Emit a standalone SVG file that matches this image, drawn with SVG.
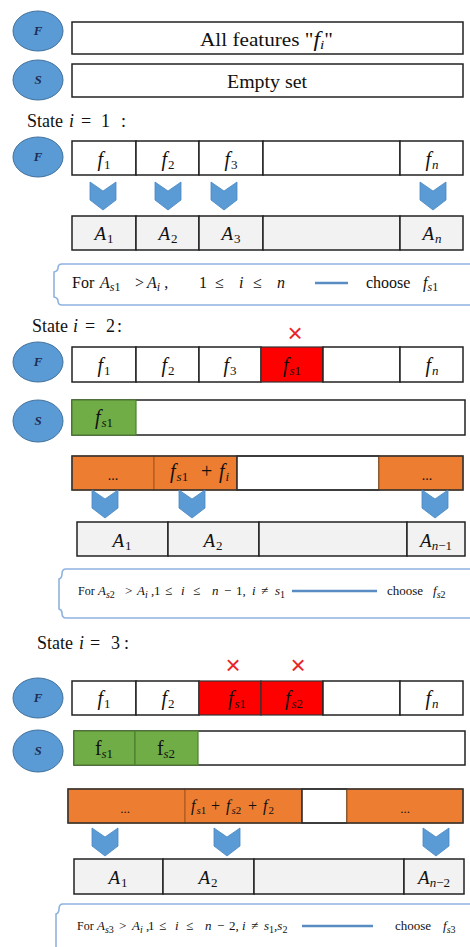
<svg xmlns="http://www.w3.org/2000/svg" width="470" height="947" viewBox="0 0 470 947" font-family="'Liberation Serif', 'Times New Roman', serif">
<style>
.bg{fill:#fff}
.box{fill:#fff;stroke:#222;stroke-width:1.5}
.gray{fill:#f2f2f2;stroke:#222;stroke-width:1.5}
.red{fill:#ff0000;stroke:#333;stroke-width:1.2}
.green{fill:#70ad47;stroke:#4f7f31;stroke-width:1.2}
.orange{fill:#ed7d31;stroke:#ae5a21;stroke-width:1.2}
.frame{fill:none;stroke:#333;stroke-width:1.5}
.ell{fill:#5b9bd5;stroke:#41719c;stroke-width:1}
.chev{fill:#5b9bd5;stroke:#4a86c0;stroke-width:0.8}
.brace{fill:#fff;stroke:#8fb3df;stroke-width:1.6}
.link{stroke:#5a8cc4;stroke-width:2.5}
text{font-family:'Liberation Serif','Times New Roman',serif;fill:#111}
.el{font-size:13px;font-style:italic;font-weight:bold;fill:#1f2d50;text-anchor:middle}
.i{font-style:italic}
.c{font-size:20px;text-anchor:middle}
.a{font-size:19px;text-anchor:middle}
.s{font-size:13px}
.st{font-size:18px}
.b1{font-size:16px}
.b2{font-size:13px}
.x{font-family:'Liberation Sans',Arial,sans-serif;font-size:26px;fill:#e8262a;text-anchor:middle}
</style>
<defs>
<polygon id="chev" points="-13,0 0,9 13,0 13,18 0,28 -13,18"/>
</defs>
<rect class="bg" width="470" height="947"/>

<!-- Header -->
<g id="F0"><ellipse class="ell" cx="38" cy="31" rx="25" ry="20"/><text class="el" x="38" y="35">F</text></g>
<g id="allFeatures"><rect class="box" x="72" y="22" width="391" height="32"/>
<text x="200" y="46" font-size="18" textLength="133" lengthAdjust="spacingAndGlyphs">All features "<tspan class="i" font-size="20">f</tspan><tspan class="i" font-size="13" dy="3">i</tspan><tspan dy="-3">"</tspan></text></g>
<g id="S0"><ellipse class="ell" cx="38" cy="80" rx="25" ry="20"/><text class="el" x="38" y="84">S</text></g>
<g id="emptySet"><rect class="box" x="72" y="64" width="391" height="33"/>
<text x="227" y="88" font-size="18" textLength="80" lengthAdjust="spacingAndGlyphs">Empty set</text></g>

<!-- State 1 -->
<g id="state1Label"><text class="st" y="127"><tspan x="27">State</tspan><tspan x="69" class="i">i</tspan><tspan x="81">=</tspan><tspan x="101">1</tspan><tspan x="121">:</tspan></text></g>
<g id="F1"><ellipse class="ell" cx="38" cy="157" rx="25" ry="20"/><text class="el" x="38" y="161">F</text></g>
<g id="F1row">
<rect class="box" x="72" y="141" width="64" height="34"/>
<rect class="box" x="136" y="141" width="63" height="34"/>
<rect class="box" x="199" y="141" width="64" height="34"/>
<rect class="box" x="263" y="141" width="137" height="34"/>
<rect class="box" x="400" y="141" width="63" height="34"/>
<text class="c" x="104" y="166"><tspan class="i">f</tspan><tspan class="s" dx="1" dy="3">1</tspan></text>
<text class="c" x="168" y="166"><tspan class="i">f</tspan><tspan class="s" dx="1" dy="3">2</tspan></text>
<text class="c" x="231" y="166"><tspan class="i">f</tspan><tspan class="s" dx="1" dy="3">3</tspan></text>
<text class="c" x="432" y="166"><tspan class="i">f</tspan><tspan class="i s" dx="1" dy="3">n</tspan></text>
</g>
<g id="A1row">
<rect class="gray" x="72" y="216" width="64" height="34"/>
<rect class="gray" x="136" y="216" width="63" height="34"/>
<rect class="gray" x="199" y="216" width="64" height="34"/>
<rect class="gray" x="263" y="216" width="137" height="34"/>
<rect class="gray" x="400" y="216" width="63" height="34"/>
<text class="a" x="104" y="240"><tspan class="i">A</tspan><tspan class="s" dx="1" dy="3">1</tspan></text>
<text class="a" x="168" y="240"><tspan class="i">A</tspan><tspan class="s" dx="1" dy="3">2</tspan></text>
<text class="a" x="231" y="240"><tspan class="i">A</tspan><tspan class="s" dx="1" dy="3">3</tspan></text>
<text class="a" x="432" y="240"><tspan class="i">A</tspan><tspan class="i s" dx="1" dy="3">n</tspan></text>
</g>
<g id="rule1">
<path class="brace" d="M472,264 H62 Q58,264 58,268 Q58,271 54,272 V297 Q58,298 58,301 Q58,305 62,305 H472"/>
<text class="b1" y="288"><tspan x="72">For</tspan><tspan x="100" class="i">A</tspan><tspan class="i" font-size="12" dy="3">s</tspan><tspan font-size="12">1</tspan><tspan x="135" dy="-3">&gt;</tspan><tspan x="147" class="i">A</tspan><tspan class="i" font-size="12" dy="3">i</tspan><tspan dy="-3"> ,</tspan><tspan x="199">1</tspan><tspan x="215">≤</tspan><tspan x="239" class="i">i</tspan><tspan x="253">≤</tspan><tspan x="277" class="i">n</tspan><tspan x="366">choose</tspan><tspan x="423" class="i">f</tspan><tspan class="i" font-size="12" dy="3">s</tspan><tspan font-size="12">1</tspan></text>
</g>

<!-- State 2 -->
<g id="state2Label"><text class="st" y="332"><tspan x="32">State</tspan><tspan x="73" class="i">i</tspan><tspan x="85">=</tspan><tspan x="106">2</tspan><tspan x="117">:</tspan></text></g>
<g id="cross2"><text class="x" x="295" y="342">×</text></g>
<g id="F2"><ellipse class="ell" cx="38" cy="362" rx="25" ry="20"/><text class="el" x="38" y="366">F</text></g>
<g id="F2row">
<rect class="box" x="72" y="347" width="64" height="35"/>
<rect class="box" x="136" y="347" width="63" height="35"/>
<rect class="box" x="199" y="347" width="62" height="35"/>
<rect class="red" x="261" y="347" width="62" height="35"/>
<rect class="box" x="323" y="347" width="77" height="35"/>
<rect class="box" x="400" y="347" width="63" height="35"/>
<text class="c" x="104" y="372"><tspan class="i">f</tspan><tspan class="s" dx="1" dy="3">1</tspan></text>
<text class="c" x="168" y="372"><tspan class="i">f</tspan><tspan class="s" dx="1" dy="3">2</tspan></text>
<text class="c" x="230" y="372"><tspan class="i">f</tspan><tspan class="s" dx="1" dy="3">3</tspan></text>
<text class="c" x="292" y="372"><tspan class="i">f</tspan><tspan class="i s" dx="1" dy="3">s</tspan><tspan class="s">1</tspan></text>
<text class="c" x="432" y="372"><tspan class="i">f</tspan><tspan class="i s" dx="1" dy="3">n</tspan></text>
</g>
<g id="S2"><ellipse class="ell" cx="38" cy="421" rx="25" ry="21"/><text class="el" x="38" y="425">S</text></g>
<g id="S2row">
<rect class="box" x="72" y="400" width="393" height="35"/>
<rect class="green" x="72" y="400" width="64" height="35"/>
<text class="c" x="104" y="424"><tspan class="i">f</tspan><tspan class="i s" dx="1" dy="3">s</tspan><tspan class="s">1</tspan></text>
</g>
<g id="O2row">
<rect class="orange" x="72" y="456" width="82" height="34"/>
<rect class="orange" x="154" y="456" width="83" height="34"/>
<rect class="box" x="237" y="456" width="142" height="34"/>
<rect class="orange" x="379" y="456" width="84" height="34"/>
<rect class="frame" x="72" y="456" width="391" height="34"/>
<text x="113" y="480" font-size="14" text-anchor="middle">...</text>
<text y="478" font-size="20"><tspan x="170" class="i">f</tspan><tspan class="i s" dx="1" dy="3">s</tspan><tspan class="s">1</tspan><tspan x="201" dy="-3">+</tspan><tspan x="219" class="i">f</tspan><tspan class="i s" dx="1" dy="3">i</tspan></text>
<text x="427" y="480" font-size="14" text-anchor="middle">...</text>
</g>
<g id="A2row">
<rect class="gray" x="77" y="522" width="91" height="34"/>
<rect class="gray" x="168" y="522" width="91" height="34"/>
<rect class="gray" x="259" y="522" width="148" height="34"/>
<rect class="gray" x="407" y="522" width="58" height="34"/>
<text class="a" x="122" y="547"><tspan class="i">A</tspan><tspan class="s" dx="1" dy="3">1</tspan></text>
<text class="a" x="213" y="547"><tspan class="i">A</tspan><tspan class="s" dx="1" dy="3">2</tspan></text>
<text class="a" x="436" y="547"><tspan class="i">A</tspan><tspan class="i s" dy="3">n</tspan><tspan class="s">−1</tspan></text>
</g>
<g id="rule2">
<path class="brace" d="M472,569 H66 Q62,569 62,574 Q62,578 59,579 V609 Q62,610 62,613 Q62,618 66,618 H472"/>
<text class="b2" y="595"><tspan x="78" font-size="12">For</tspan><tspan x="98" class="i">A</tspan><tspan class="i" font-size="10" dy="3">s</tspan><tspan font-size="10">2</tspan><tspan x="125" dy="-3">&gt;</tspan><tspan x="137" class="i">A</tspan><tspan class="i" font-size="10" dy="3">i</tspan><tspan dy="-3"> ,</tspan><tspan x="154">1</tspan><tspan x="165">≤</tspan><tspan x="181" class="i">i</tspan><tspan x="193">≤</tspan><tspan x="212" class="i">n</tspan><tspan x="224">−</tspan><tspan x="236">1,</tspan><tspan x="252" class="i">i</tspan><tspan x="261">≠</tspan><tspan x="275" class="i">s</tspan><tspan font-size="10" dy="3">1</tspan><tspan x="387" dy="-3">choose</tspan><tspan x="433" class="i">f</tspan><tspan class="i" font-size="10" dy="3">s</tspan><tspan font-size="10">2</tspan></text>
</g>

<!-- State 3 -->
<g id="state3Label"><text class="st" y="649"><tspan x="37">State</tspan><tspan x="79" class="i">i</tspan><tspan x="90">=</tspan><tspan x="111">3</tspan><tspan x="124">:</tspan></text></g>
<g id="cross3a"><text class="x" x="233" y="674">×</text></g>
<g id="cross3b"><text class="x" x="298" y="674">×</text></g>
<g id="F3"><ellipse class="ell" cx="38" cy="698" rx="25" ry="20"/><text class="el" x="38" y="702">F</text></g>
<g id="F3row">
<rect class="box" x="72" y="681" width="64" height="34"/>
<rect class="box" x="136" y="681" width="63" height="34"/>
<rect class="red" x="199" y="681" width="62" height="34"/>
<rect class="red" x="261" y="681" width="62" height="34"/>
<rect class="box" x="323" y="681" width="77" height="34"/>
<rect class="box" x="400" y="681" width="63" height="34"/>
<text class="c" x="104" y="705"><tspan class="i">f</tspan><tspan class="s" dx="1" dy="3">1</tspan></text>
<text class="c" x="168" y="705"><tspan class="i">f</tspan><tspan class="s" dx="1" dy="3">2</tspan></text>
<text class="c" x="237" y="705" fill="#3a0000"><tspan class="i">f</tspan><tspan class="i s" dx="1" dy="3">s</tspan><tspan class="s">1</tspan></text>
<text class="c" x="294" y="705" fill="#3a0000"><tspan class="i">f</tspan><tspan class="i s" dx="1" dy="3">s</tspan><tspan class="s">2</tspan></text>
<text class="c" x="432" y="705"><tspan class="i">f</tspan><tspan class="i s" dx="1" dy="3">n</tspan></text>
</g>
<g id="S3"><ellipse class="ell" cx="38" cy="751" rx="25" ry="21"/><text class="el" x="38" y="755">S</text></g>
<g id="S3row">
<rect class="box" x="74" y="731" width="391" height="34"/>
<rect class="green" x="74" y="731" width="61" height="34"/>
<rect class="green" x="135" y="731" width="63" height="34"/>
<text class="c" x="104" y="755">f<tspan class="i s" dy="3">s</tspan><tspan class="s">1</tspan></text>
<text class="c" x="166" y="755">f<tspan class="i s" dy="3">s</tspan><tspan class="s">2</tspan></text>
</g>
<g id="O3row">
<rect class="orange" x="68" y="789" width="117" height="34"/>
<rect class="orange" x="185" y="789" width="117" height="34"/>
<rect class="box" x="302" y="789" width="45" height="34"/>
<rect class="orange" x="347" y="789" width="116" height="34"/>
<rect class="frame" x="68" y="789" width="395" height="34"/>
<text x="125" y="813" font-size="13" text-anchor="middle">...</text>
<text y="811" font-size="16"><tspan x="191" class="i">f</tspan><tspan class="i" font-size="11" dx="1" dy="3">s</tspan><tspan font-size="11">1</tspan><tspan x="211" dy="-3">+</tspan><tspan x="226" class="i">f</tspan><tspan class="i" font-size="11" dx="1" dy="3">s</tspan><tspan font-size="11">2</tspan><tspan x="248" dy="-3">+</tspan><tspan x="263" class="i">f</tspan><tspan font-size="11" dx="1" dy="3">2</tspan></text>
<text x="405" y="813" font-size="13" text-anchor="middle">...</text>
</g>
<g id="A3row">
<rect class="gray" x="74" y="859" width="89" height="35"/>
<rect class="gray" x="163" y="859" width="91" height="35"/>
<rect class="gray" x="254" y="859" width="150" height="35"/>
<rect class="gray" x="404" y="859" width="60" height="35"/>
<text class="a" x="118" y="884"><tspan class="i">A</tspan><tspan class="s" dx="1" dy="3">1</tspan></text>
<text class="a" x="208" y="884"><tspan class="i">A</tspan><tspan class="s" dx="1" dy="3">2</tspan></text>
<text class="a" x="434" y="884"><tspan class="i">A</tspan><tspan class="i s" dy="3">n</tspan><tspan class="s">−2</tspan></text>
</g>
<g id="rule3">
<path class="brace" d="M472,904 H63 Q59,904 59,909 Q59,913 56,914 V948"/>
<text class="b2" y="930"><tspan x="77" font-size="12">For</tspan><tspan x="97" class="i">A</tspan><tspan class="i" font-size="10" dy="3">s</tspan><tspan font-size="10">3</tspan><tspan x="119" dy="-3">&gt;</tspan><tspan x="132" class="i">A</tspan><tspan class="i" font-size="10" dy="3">i</tspan><tspan dy="-3"> ,</tspan><tspan x="148">1</tspan><tspan x="159">≤</tspan><tspan x="175" class="i">i</tspan><tspan x="186">≤</tspan><tspan x="205" class="i">n</tspan><tspan x="217">−</tspan><tspan x="229">2,</tspan><tspan x="242" class="i">i</tspan><tspan x="251">≠</tspan><tspan x="264" class="i">s</tspan><tspan font-size="10" dy="3">1</tspan><tspan dy="-3">,</tspan><tspan class="i">s</tspan><tspan font-size="10" dy="3">2</tspan><tspan x="395" dy="-3">choose</tspan><tspan x="443" class="i">f</tspan><tspan class="i" font-size="10" dy="3">s</tspan><tspan font-size="10">3</tspan></text>
</g>

<!-- Connectors -->
<g id="connectors">
<line class="link" x1="315" y1="283" x2="348" y2="283"/>
<line class="link" x1="292" y1="591" x2="377" y2="591"/>
<line class="link" x1="302" y1="926" x2="373" y2="926"/>
<use href="#chev" class="chev" x="103" y="182"/>
<use href="#chev" class="chev" x="168" y="182"/>
<use href="#chev" class="chev" x="224" y="182"/>
<use href="#chev" class="chev" x="433" y="182"/>
<use href="#chev" class="chev" x="105" y="490"/>
<use href="#chev" class="chev" x="192" y="490"/>
<use href="#chev" class="chev" x="435" y="490"/>
<use href="#chev" class="chev" x="105" y="828"/>
<use href="#chev" class="chev" x="227" y="828"/>
<use href="#chev" class="chev" x="436" y="828"/>
</g>
</svg>
